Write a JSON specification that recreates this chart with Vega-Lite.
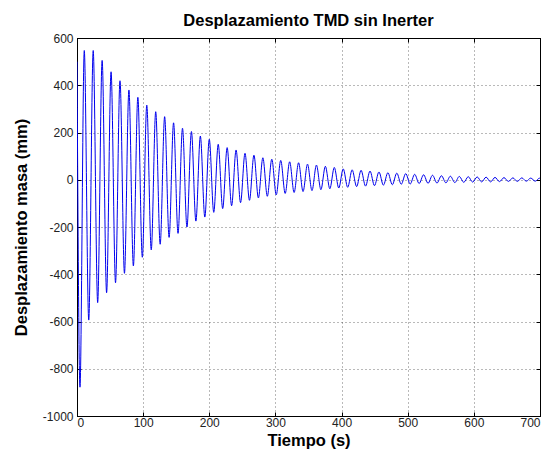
{
  "$schema": "https://vega.github.io/schema/vega-lite/v6.json",
  "autosize": "none",
  "width": 463,
  "height": 378,
  "padding": {"left": 77, "top": 38, "right": 14, "bottom": 39},
  "background": "white",
  "config": {
    "font": "Liberation Sans",
    "view": {"stroke": "#000", "strokeWidth": 1},
    "axis": {
      "domainColor": "#000",
      "tickColor": "#000",
      "labelColor": "#222",
      "labelFontSize": 12,
      "labelFont": "Liberation Sans",
      "titleFont": "Liberation Sans",
      "titleFontSize": 16.5,
      "titleFontWeight": "bold",
      "titleColor": "#000",
      "gridColor": "#000",
      "gridOpacity": 0.55,
      "gridDash": [1, 3],
      "gridWidth": 1
    }
  },
  "title": {
    "text": "Desplazamiento TMD sin Inerter",
    "fontSize": 16.5,
    "fontWeight": "bold",
    "font": "Liberation Sans",
    "color": "#000",
    "anchor": "middle",
    "offset": 3
  },
  "data": {
    "values": [
      {"t": 0, "d": 500}, {"t": 4.5, "d": -878}, {"t": 11, "d": 547}, {"t": 17.75, "d": -594},
      {"t": 24.5, "d": 547}, {"t": 31.25, "d": -520}, {"t": 38, "d": 505}, {"t": 44.75, "d": -478},
      {"t": 51.5, "d": 457}, {"t": 58.25, "d": -436}, {"t": 65, "d": 419}, {"t": 71.75, "d": -396},
      {"t": 78.5, "d": 380}, {"t": 85.25, "d": -365}, {"t": 92, "d": 349}, {"t": 98.75, "d": -328},
      {"t": 105.5, "d": 316}, {"t": 112.25, "d": -297}, {"t": 119, "d": 288}, {"t": 125.75, "d": -273},
      {"t": 132.5, "d": 267}, {"t": 139.25, "d": -244}, {"t": 146, "d": 241}, {"t": 152.75, "d": -227},
      {"t": 159.5, "d": 218}, {"t": 166.25, "d": -200}, {"t": 173, "d": 204}, {"t": 179.75, "d": -175},
      {"t": 186.5, "d": 185}, {"t": 193.25, "d": -158}, {"t": 200, "d": 171}, {"t": 206.75, "d": -138},
      {"t": 213.5, "d": 150}, {"t": 220.25, "d": -122}, {"t": 227, "d": 136}, {"t": 233.75, "d": -110},
      {"t": 240.5, "d": 126}, {"t": 247.25, "d": -97}, {"t": 254, "d": 112}, {"t": 260.75, "d": -87},
      {"t": 267.5, "d": 104}, {"t": 274.25, "d": -77}, {"t": 281, "d": 93}, {"t": 287.75, "d": -70},
      {"t": 294.5, "d": 87}, {"t": 301.25, "d": -64}, {"t": 308, "d": 82}, {"t": 314.75, "d": -58},
      {"t": 321.5, "d": 76}, {"t": 328.25, "d": -54}, {"t": 335, "d": 72}, {"t": 341.75, "d": -50},
      {"t": 348.5, "d": 66}, {"t": 355.25, "d": -46}, {"t": 362, "d": 62}, {"t": 368.75, "d": -42},
      {"t": 375.5, "d": 57}, {"t": 382.25, "d": -38}, {"t": 389, "d": 52}, {"t": 395.75, "d": -35},
      {"t": 402.5, "d": 46}, {"t": 409.25, "d": -32}, {"t": 416, "d": 42}, {"t": 422.75, "d": -29},
      {"t": 429.5, "d": 40}, {"t": 436.25, "d": -27}, {"t": 443, "d": 37}, {"t": 449.75, "d": -25},
      {"t": 456.5, "d": 33}, {"t": 463.25, "d": -23}, {"t": 470, "d": 30}, {"t": 476.75, "d": -21},
      {"t": 483.5, "d": 28}, {"t": 490.25, "d": -19}, {"t": 497, "d": 26}, {"t": 503.75, "d": -18},
      {"t": 510.5, "d": 23}, {"t": 517.25, "d": -16}, {"t": 524, "d": 21}, {"t": 530.75, "d": -15},
      {"t": 537.5, "d": 19}, {"t": 544.25, "d": -14}, {"t": 551, "d": 17}, {"t": 557.75, "d": -13},
      {"t": 564.5, "d": 15}, {"t": 571.25, "d": -12}, {"t": 578, "d": 14}, {"t": 584.75, "d": -11},
      {"t": 591.5, "d": 13}, {"t": 598.25, "d": -10}, {"t": 605, "d": 12}, {"t": 611.75, "d": -9},
      {"t": 618.5, "d": 11}, {"t": 625.25, "d": -9}, {"t": 632, "d": 10}, {"t": 638.75, "d": -8},
      {"t": 645.5, "d": 9}, {"t": 652.25, "d": -7}, {"t": 659, "d": 8}, {"t": 665.75, "d": -7},
      {"t": 672.5, "d": 8}, {"t": 679.25, "d": -6}, {"t": 686, "d": 7}, {"t": 692.75, "d": -6},
      {"t": 699.5, "d": 7}, {"t": 700, "d": 5}
    ]
  },
  "resolve": {"axis": {"x": "independent", "y": "independent"}},
  "layer": [
    {
      "mark": {"type": "line", "color": "#0000ee", "strokeWidth": 1, "interpolate": "monotone", "clip": true},
      "encoding": {
        "x": {
          "field": "t", "type": "quantitative",
          "scale": {"domain": [0, 700], "nice": false},
          "axis": {"title": "Tiempo (s)", "values": [0, 100, 200, 300, 400, 500, 600, 700], "labelExpr": "'' + datum.value", "tickSize": -4, "labelPadding": 5, "titlePadding": 4, "grid": true}
        },
        "y": {
          "field": "d", "type": "quantitative",
          "scale": {"domain": [-1000, 600], "nice": false},
          "axis": {"title": "Desplazamiento masa (mm)", "values": [-1000, -800, -600, -400, -200, 0, 200, 400, 600], "labelExpr": "'' + datum.value", "tickSize": -4, "labelPadding": 8, "titlePadding": 13, "grid": true}
        }
      }
    },
    {
      "mark": {"type": "line", "opacity": 0, "clip": true},
      "encoding": {
        "x": {
          "field": "t", "type": "quantitative",
          "axis": {"orient": "top", "title": null, "labels": false, "values": [0, 100, 200, 300, 400, 500, 600, 700], "tickSize": -4, "grid": false}
        },
        "y": {
          "field": "d", "type": "quantitative",
          "axis": {"orient": "right", "title": null, "labels": false, "values": [-1000, -800, -600, -400, -200, 0, 200, 400, 600], "tickSize": -4, "grid": false}
        }
      }
    }
  ]
}
